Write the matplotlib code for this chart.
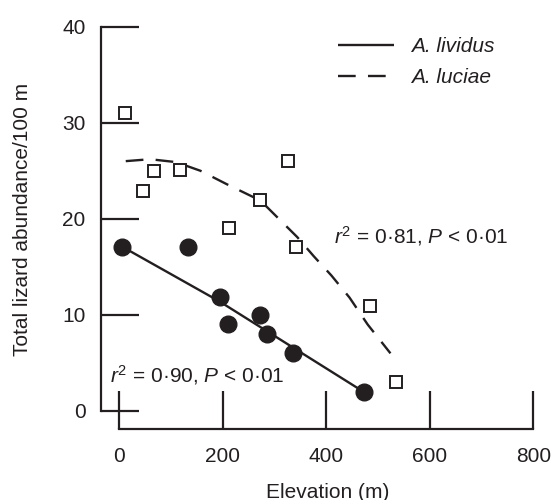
import matplotlib
matplotlib.use("Agg")
import matplotlib.pyplot as plt

plt.rcParams['font.family'] = ['Liberation Sans', 'DejaVu Sans']
plt.rcParams['mathtext.fontset'] = 'custom'
plt.rcParams['mathtext.rm'] = 'Liberation Sans'
plt.rcParams['mathtext.it'] = 'Liberation Sans:italic'

INK = '#231f20'
FS = 15

# ---- data ----
lividus_x = [6, 133, 194, 210, 273, 286, 335, 472]
lividus_y = [17.1, 17.1, 11.9, 9.0, 10.0, 8.0, 6.0, 2.0]
luciae_x = [12, 46, 68, 118, 212, 273, 326, 342, 484, 534]
luciae_y = [31.0, 22.9, 25.0, 25.1, 19.0, 22.0, 26.0, 17.1, 10.9, 3.0]

# fitted relationships as drawn in the figure
lividus_fit_x = [6, 194, 472]
lividus_fit_y = [17.1, 11.4, 2.0]
luciae_fit_x = [13, 60, 110, 157, 208, 273, 344, 376, 410, 445, 480, 524]
luciae_fit_y = [26.0, 26.2, 25.9, 25.0, 23.6, 21.9, 18.1, 16.1, 14.1, 11.8, 9.0, 6.0]

x_ticks = [0, 200, 400, 600, 800]
y_ticks = [0, 10, 20, 30, 40]

fig = plt.figure(figsize=(5.51, 5.00), dpi=100)
ax = fig.add_axes([0.1784, 0.1396, 0.7991, 0.8264])
ax.set_xlim(-40, 810)
ax.set_ylim(-2, 41)

l1, = ax.plot(lividus_fit_x, lividus_fit_y, color=INK, lw=1.7, solid_capstyle='butt')
l2, = ax.plot(luciae_fit_x, luciae_fit_y, color=INK, lw=1.7, dashes=(7.5, 5.2))
ax.plot(lividus_x, lividus_y, 'o', ms=12, color=INK, mec=INK, zorder=3)
ax.plot(luciae_x, luciae_y, 's', ms=8.3, mfc='white', mec=INK, mew=1.4, zorder=3)

for s in ['top', 'right']:
    ax.spines[s].set_visible(False)
ax.spines['left'].set_position(('data', -35))
ax.spines['left'].set_bounds(0, 40)
ax.spines['bottom'].set_position(('data', -1.9))
ax.spines['bottom'].set_bounds(0, 800)
for s in ['left', 'bottom']:
    ax.spines[s].set_linewidth(1.6)
    ax.spines[s].set_color(INK)

ax.set_xticks(x_ticks)
ax.set_yticks(y_ticks)
ax.tick_params(axis='both', direction='in', length=27.4, width=1.6, color=INK,
               labelsize=FS, labelcolor=INK)
ax.tick_params(axis='x', pad=13)
ax.tick_params(axis='y', pad=11)

fig.text(23 / 551, 1 - 219 / 500, 'Total lizard abundance/100 m', rotation=90,
         ha='center', va='center', fontsize=FS, color=INK)
fig.text(328 / 551, 1 - 482.5 / 500, 'Elevation (m)', ha='center', va='top',
         fontsize=FS, color=INK)

ax.text(415, 17.45, r'$r^2$ = 0·81, $P$ < 0·01', fontsize=FS, color=INK,
        ha='left', va='baseline')
ax.text(-17.4, 2.95, r'$r^2$ = 0·90, $P$ < 0·01', fontsize=FS, color=INK,
        ha='left', va='baseline')

leg = ax.legend([l1, l2], ['A. lividus', 'A. luciae'], loc='upper left',
                bbox_to_anchor=(337.7 / 551, 1 - 37 / 500),
                bbox_transform=fig.transFigure, frameon=False,
                borderpad=0, borderaxespad=0, handlelength=2.7,
                handletextpad=0.8, labelspacing=0.58,
                prop={'style': 'italic', 'size': FS})
for t in leg.get_texts():
    t.set_color(INK)

fig.savefig('out.png', dpi=100)
